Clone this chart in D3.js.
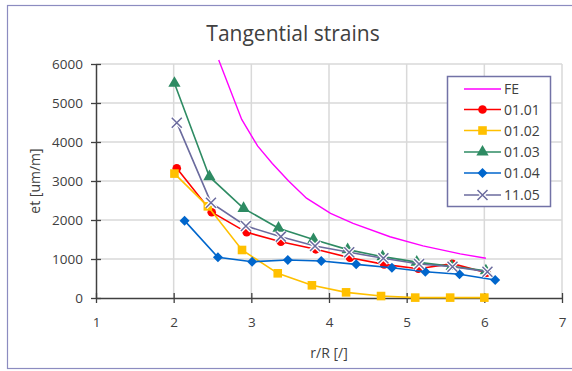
<!DOCTYPE html>
<html>
<head>
<meta charset="utf-8">
<script src="https://cdn.jsdelivr.net/npm/d3@7"></script>
<style>
  body { margin: 0; background: #fff; }
  svg { display: block; font-family: "Open Sans", "Noto Sans", sans-serif; }
</style>
</head>
<body>
<svg id="chart"></svg>
<script>
// values
const xTicks = [1, 2, 3, 4, 5, 6, 7];
const yTicks = [0, 1000, 2000, 3000, 4000, 5000, 6000];

const feData = [[2.58, 6100], [2.876, 4580], [3.08, 3900], [3.27, 3450], [3.48, 3000], [3.71, 2560], [4.02, 2170], [4.31, 1915], [4.785, 1570], [5.21, 1335], [5.69, 1130], [6.02, 1020]];
const s0101 = [[2.04, 3325], [2.49, 2200], [2.94, 1684], [3.38, 1444], [3.83, 1248], [4.27, 1034], [4.71, 863], [5.15, 752], [5.59, 880], [6.03, 650]];
const s0102 = [[2.01, 3190], [2.44, 2350], [2.88, 1231], [3.34, 633], [3.78, 325], [4.22, 145], [4.67, 50], [5.11, 10], [5.56, 10], [6.0, 10]];
const s0103 = [[2.01, 5505], [2.46, 3111], [2.9, 2299], [3.35, 1790], [3.8, 1500], [4.24, 1240], [4.69, 1060], [5.13, 920], [5.58, 810], [6.02, 700]];
const s0104 = [[2.14, 1983], [2.57, 1043], [3.01, 931], [3.47, 974], [3.9, 949], [4.35, 863], [4.81, 777], [5.24, 675], [5.68, 607], [6.14, 462]];
const s1105 = [[2.04, 4496], [2.48, 2444], [2.93, 1846], [3.38, 1573], [3.82, 1333], [4.26, 1171], [4.7, 1017], [5.16, 872], [5.59, 803], [6.04, 675]];

const series = [
  { name: "FE", data: feData, color: "#ff00ff", marker: null },
  { name: "01.01", data: s0101, color: "#ff0000", marker: "circle" },
  { name: "01.02", data: s0102, color: "#ffc000", marker: "square" },
  { name: "01.03", data: s0103, color: "#2e8b63", marker: "triangle" },
  { name: "01.04", data: s0104, color: "#0066cc", marker: "diamond" },
  { name: "11.05", data: s1105, color: "#6b6b9e", marker: "x" }
];

const width = 572, height = 371;
const svg = d3.select("#chart").attr("width", width).attr("height", height);

// chart border
svg.append("rect").attr("x", 7.5).attr("y", 5.5).attr("width", 580).attr("height", 363)
  .attr("fill", "#fff").attr("stroke", "#8c8cc0").attr("stroke-width", 1.2);

const x = d3.scaleLinear().domain([1, 7]).range([96, 562]);
const y = d3.scaleLinear().domain([0, 6000]).range([298, 64]);

// gridlines
svg.append("g").selectAll("line").data(yTicks.filter(d => d > 0)).enter().append("line")
  .attr("x1", x(1)).attr("x2", x(7)).attr("y1", d => y(d)).attr("y2", d => y(d))
  .attr("stroke", "#d9d9d9").attr("stroke-width", 1.5);
svg.append("g").selectAll("line").data(xTicks.filter(d => d > 1)).enter().append("line")
  .attr("x1", d => x(d)).attr("x2", d => x(d)).attr("y1", y(0)).attr("y2", y(6000))
  .attr("stroke", "#d9d9d9").attr("stroke-width", 1.5);

// axes
const xAxis = svg.append("g").attr("transform", `translate(0,${y(0)})`)
  .call(d3.axisBottom(x).tickValues(xTicks).tickFormat(d3.format("d")).tickSize(5).tickPadding(14).tickSizeOuter(0));
xAxis.selectAll(".tick line").attr("y1", -5);
const yAxis = svg.append("g").attr("transform", `translate(${x(1)},0)`)
  .call(d3.axisLeft(y).tickValues(yTicks).tickFormat(d3.format("d")).tickSize(5).tickPadding(8).tickSizeOuter(0));
yAxis.selectAll(".tick line").attr("x1", 5);
svg.selectAll(".domain").attr("stroke", "#404040").attr("stroke-width", 1.5);
svg.selectAll(".tick line").attr("stroke", "#404040").attr("stroke-width", 1.3);
svg.selectAll(".tick text").attr("fill", "#404040").attr("font-size", 13.5)
  .attr("font-family", "'Open Sans', 'Noto Sans', sans-serif");

// titles
svg.append("text").attr("x", 293).attr("y", 41).attr("text-anchor", "middle")
  .attr("font-size", 21).attr("fill", "#404040").text("Tangential strains");
svg.append("text").attr("x", 329).attr("y", 358).attr("text-anchor", "middle")
  .attr("font-size", 14).attr("fill", "#404040").text("r/R [/]");
svg.append("text").attr("transform", "translate(40,181) rotate(-90)").attr("text-anchor", "middle")
  .attr("font-size", 14).attr("fill", "#404040").text("et [um/m]");

function drawMarker(g, type, cx, cy, color) {
  if (type === "circle") {
    g.append("circle").attr("cx", cx).attr("cy", cy).attr("r", 4.3).attr("fill", color);
  } else if (type === "square") {
    g.append("rect").attr("x", cx - 4.3).attr("y", cy - 4.3).attr("width", 8.6).attr("height", 8.6).attr("fill", color);
  } else if (type === "triangle") {
    g.append("path").attr("transform", `translate(${cx},${cy})`)
      .attr("d", d3.symbol().type(d3.symbolTriangle).size(65)()).attr("fill", color);
  } else if (type === "diamond") {
    g.append("path").attr("transform", `translate(${cx},${cy})`)
      .attr("d", "M0,-5L5,0L0,5L-5,0Z").attr("fill", color);
  } else if (type === "x") {
    g.append("path").attr("transform", `translate(${cx},${cy})`)
      .attr("d", "M-5,-5L5,5M-5,5L5,-5").attr("stroke", "#fff").attr("stroke-width", 4).attr("fill", "none");
    g.append("path").attr("transform", `translate(${cx},${cy})`)
      .attr("d", "M-5,-5L5,5M-5,5L5,-5").attr("stroke", color).attr("stroke-width", 1.5).attr("fill", "none");
  }
}

const line = d3.line().x(d => x(d[0])).y(d => y(d[1]));

series.forEach(s => {
  const g = svg.append("g");
  g.append("path").datum(s.data).attr("fill", "none").attr("stroke", s.color)
    .attr("stroke-width", s.marker ? 1.6 : 1.4).attr("d", line);
  if (s.marker) s.data.forEach(d => drawMarker(g, s.marker, x(d[0]), y(d[1]), s.color));
});

// legend
const legend = svg.append("g");
legend.append("rect").attr("x", 447.5).attr("y", 76.5).attr("width", 103).attr("height", 130)
  .attr("fill", "#fff").attr("stroke", "#7272a6").attr("stroke-width", 1.5);
const legendY = [89, 109.5, 130.5, 152, 173, 195];
series.forEach((s, i) => {
  const ly = legendY[i];
  legend.append("line").attr("x1", 464).attr("x2", 501).attr("y1", ly).attr("y2", ly)
    .attr("stroke", s.color).attr("stroke-width", s.marker ? 1.6 : 1.4);
  if (s.marker) drawMarker(legend, s.marker, 482.5, ly, s.color);
  legend.append("text").attr("x", 504).attr("y", ly + 5).attr("font-size", 14)
    .attr("fill", "#404040").text(s.name);
});
</script>
</body>
</html>
